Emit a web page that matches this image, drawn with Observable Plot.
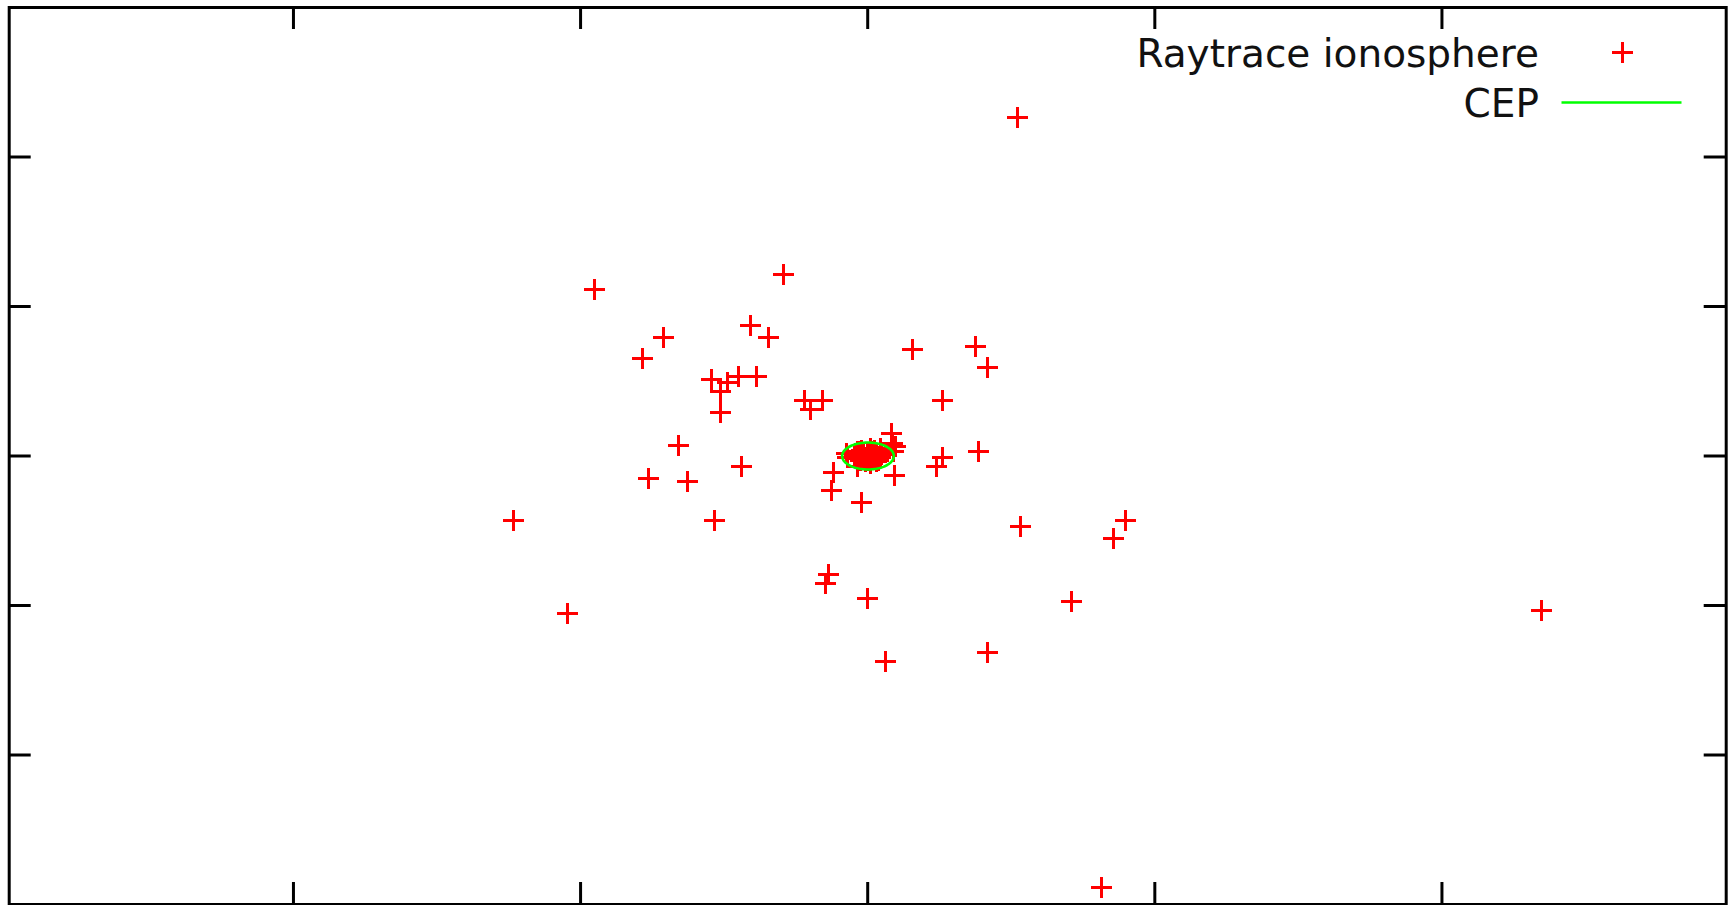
<!DOCTYPE html>
<html>
<head>
<meta charset="utf-8">
<script src="https://cdn.jsdelivr.net/npm/d3@7"></script>
<script src="https://cdn.jsdelivr.net/npm/@observablehq/plot@0.6"></script>
<style>
  html, body { margin: 0; padding: 0; background: #fff; }
  #chart svg { display: block; }
</style>
</head>
<body>
<div id="chart"></div>
<script>
// Raytraced position errors (scattered solutions)
const scatterX = [0.523, -0.293, -0.951, -0.711, -0.784, -0.408, -0.345, 0.157, 0.376, 0.418,
  -0.544, -0.490, -0.449, -0.387, -0.512, -0.512, -0.220, -0.157, -0.199, 0.261,
  -0.659, -0.763, -0.627, -0.439, -1.233, -0.533, -0.118, -0.125, -0.021, 0.094,
  0.240, 0.261, 0.387, 0.084, 0.086, 0.097, 0.090, 0.533, 0.899, 0.857,
  -0.136, -0.146, 0.000, 0.711, 0.418, 0.063, 2.345, 0.815, -1.045];
const scatterY = [2.263, 1.212, 1.112, 0.791, 0.650, 0.871, 0.791, 0.711, 0.731, 0.590,
  0.510, 0.490, 0.530, 0.530, 0.430, 0.289, 0.369, 0.369, 0.309, 0.369,
  0.068, -0.153, -0.173, -0.072, -0.434, -0.434, -0.112, -0.233, -0.313, -0.132,
  -0.072, -0.012, 0.028, 0.149, 0.084, 0.064, 0.030, -0.474, -0.434, -0.554,
  -0.795, -0.855, -0.956, -0.976, -1.317, -1.377, -1.036, -2.889, -1.054];

// Tightly converged solutions around the true position
const coreX = [0.009, 0.044, -0.037, 0.009, -0.073, -0.072,
  -0.041, -0.027, -0.013, 0.001, 0.015, 0.029, 0.043,
  -0.046, -0.031, -0.017, -0.003, 0.011, 0.025, 0.039, 0.049,
  -0.038, -0.024, -0.010, 0.004, 0.018, 0.032, 0.046,
  -0.022, 0.022, -0.008, 0.029, -0.034, 0.036];
const coreY = [0.047, 0.047, -0.072, -0.049, 0.015, -0.009,
  0.020, 0.027, 0.013, 0.020, 0.027, 0.013, 0.020,
  0.000, -0.007, 0.000, -0.007, 0.000, -0.007, 0.000, 0.007,
  -0.020, -0.027, -0.020, -0.027, -0.020, -0.027, -0.013,
  0.040, 0.040, -0.040, -0.040, 0.033, -0.033];

// Circular error probable
const cepCenter = [0.001, 0.0];
const cepRadius = 0.09;

const xTicks = [-2, -1, 0, 1, 2];
const yTicks = [-2, -1, 0, 1, 2];
const xDomain = [-2.99, 2.99];
const yDomain = [-3, 3];

const seriesNames = ["Raytrace ionosphere", "CEP"];

// ---- build table ----
const points = [
  ...scatterX.map((x, i) => ({x, y: scatterY[i]})),
  ...coreX.map((x, i) => ({x, y: coreY[i]}))
];
const cepRing = d3.range(0, 361, 3).map(a => {
  const t = a * Math.PI / 180;
  return {x: cepCenter[0] + cepRadius * Math.cos(t), y: cepCenter[1] + cepRadius * Math.sin(t)};
});

// gnuplot-style "+" point type drawn as a stroked cross
const crossSymbol = {
  draw(ctx, size) {
    const s = Math.sqrt(size / Math.PI);
    ctx.moveTo(-s, 0); ctx.lineTo(s, 0);
    ctx.moveTo(0, -s); ctx.lineTo(0, s);
  }
};
const dashSymbol = {
  draw(ctx, size) {
    const s = Math.sqrt(size / Math.PI);
    ctx.moveTo(-s, 0); ctx.lineTo(s, 0);
  }
};

const W = 1731, H = 905;
const mTop = 7, mRight = 5.3, mBottom = 1, mLeft = 8.7;
const innerW = W - mLeft - mRight, innerH = H - mTop - mBottom;
const tickLen = 22;
const frameW = 3;
const font = "'DejaVu Sans', sans-serif";

const chart = Plot.plot({
  width: W,
  height: H,
  marginTop: mTop, marginRight: mRight, marginBottom: mBottom, marginLeft: mLeft,
  style: {background: "#fff", fontFamily: font},
  x: {domain: xDomain, axis: null},
  y: {domain: yDomain, axis: null},
  marks: [
    Plot.dot(points, {x: "x", y: "y", symbol: crossSymbol, r: 10.5,
      fill: "none", stroke: "#ff0000", strokeWidth: 3, shapeRendering: "crispEdges"}),
    Plot.line(cepRing, {x: "x", y: "y", stroke: "#00ff00", strokeWidth: 2.6}),
    // inward ticks on all four sides
    Plot.tickX(xTicks, {x: d => d, insetTop: innerH - tickLen, stroke: "#000", strokeWidth: frameW}),
    Plot.tickX(xTicks, {x: d => d, insetBottom: innerH - tickLen, stroke: "#000", strokeWidth: frameW}),
    Plot.tickY(yTicks, {y: d => d, insetRight: innerW - tickLen, stroke: "#000", strokeWidth: frameW}),
    Plot.tickY(yTicks, {y: d => d, insetLeft: innerW - tickLen, stroke: "#000", strokeWidth: frameW}),
    Plot.frame({stroke: "#000", strokeWidth: frameW}),
    // key
    Plot.text([seriesNames[0]], {frameAnchor: "top-right", text: d => d, textAnchor: "end",
      lineAnchor: "bottom", dx: -187.2, dy: 59.7, fontSize: 39, fill: "#111"}),
    Plot.text([seriesNames[1]], {frameAnchor: "top-right", text: d => d, textAnchor: "end",
      lineAnchor: "bottom", dx: -187.2, dy: 109.7, fontSize: 39, fill: "#111"}),
    Plot.dot([seriesNames[0]], {frameAnchor: "top-right", symbol: crossSymbol, r: 10.5,
      dx: -103.7, dy: 44.7, fill: "none", stroke: "#ff0000", strokeWidth: 3, shapeRendering: "crispEdges"}),
    Plot.dot([seriesNames[1]], {frameAnchor: "top-right", symbol: dashSymbol, r: 60,
      dx: -104.7, dy: 95, fill: "none", stroke: "#00ff00", strokeWidth: 2.6})
  ]
});

document.getElementById("chart").appendChild(chart);
</script>
</body>
</html>
